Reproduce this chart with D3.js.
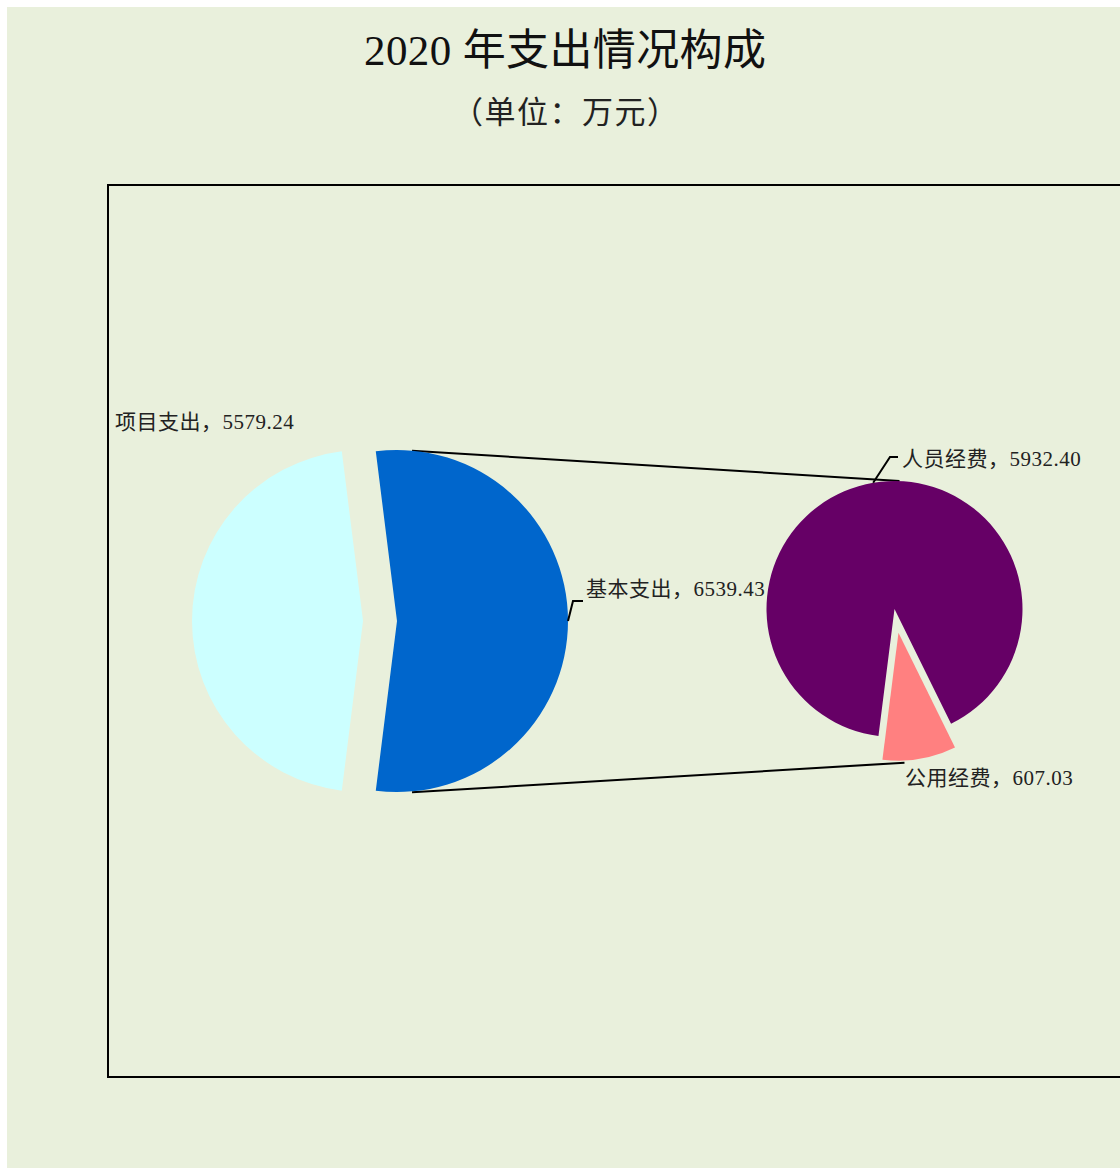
<!DOCTYPE html>
<html>
<head>
<meta charset="utf-8">
<script src="https://cdn.jsdelivr.net/npm/d3@7"></script>
<style>
  body { margin: 0; background: #fff; }
  svg { display: block; }
</style>
</head>
<body>
<div id="chart"></div>
<script>
// 2020 expenditure breakdown, pie-of-pie
const primaryNames = ["项目支出", "基本支出"];
const primaryValues = [5579.24, 6539.43];
const secondaryNames = ["人员经费", "公用经费"];
const secondaryValues = [5932.40, 607.03];
const primaryColors = ["#CCFFFF", "#0066CC"];
const secondaryColors = ["#660066", "#FF8080"];

const W = 1120, H = 1168;
const deg = Math.PI / 180;

// layout
const P = { cx: 380, cy: 621, r: 171, explode: 17 };
const S = { cx: 894.5, cy: 609, r: 128, explode: 24, start: 187.2 * deg };

const labelFont = "'Liberation Serif', 'Noto Sans CJK SC', serif";

const svg = d3.select("#chart").append("svg")
    .attr("width", W)
    .attr("height", H);

svg.append("rect")
    .attr("x", 7).attr("y", 7)
    .attr("width", W - 7).attr("height", H - 7)
    .attr("fill", "#E9F0DC");

// titles (fit to the reference widths)
svg.append("text")
    .attr("x", 565).attr("y", 65)
    .attr("text-anchor", "middle")
    .attr("font-family", "'Liberation Serif', 'Noto Sans CJK SC', sans-serif")
    .attr("font-size", "43px")
    .attr("fill", "#111")
    .attr("textLength", 402)
    .attr("lengthAdjust", "spacing")
    .text("2020 年支出情况构成");

svg.append("text")
    .attr("x", 565).attr("y", 123)
    .attr("text-anchor", "middle")
    .attr("font-family", labelFont)
    .attr("font-size", "31px")
    .attr("fill", "#222")
    .attr("textLength", 226)
    .attr("lengthAdjust", "spacing")
    .text("（单位：万元）");

// plot area frame
svg.append("rect")
    .attr("x", 108).attr("y", 185)
    .attr("width", W - 108 + 5).attr("height", 892)
    .attr("fill", "none")
    .attr("stroke", "#000")
    .attr("stroke-width", 2);

// --- primary pie ---
const pTotal = d3.sum(primaryValues);
// the split slice (基本支出) is centred on the right side
const pStart = Math.PI / 2 + (primaryValues[1] / pTotal) * Math.PI;
const primaryArcs = d3.pie().sort(null)
    .startAngle(pStart).endAngle(pStart + 2 * Math.PI)(primaryValues);

const arcP = d3.arc().innerRadius(0).outerRadius(P.r);
const offset = (a, d) => {
    const m = (a.startAngle + a.endAngle) / 2;
    return [Math.sin(m) * d, -Math.cos(m) * d];
};

// --- secondary pie ---
const secondaryArcs = d3.pie().sort(null)
    .startAngle(S.start).endAngle(S.start + 2 * Math.PI)(secondaryValues);
const arcS = d3.arc().innerRadius(0).outerRadius(S.r);

const blueOff = offset(primaryArcs[1], P.explode);
const blueC = [P.cx + blueOff[0], P.cy + blueOff[1]];
const pinkOff = offset(secondaryArcs[1], S.explode);
const pinkC = [S.cx + pinkOff[0], S.cy + pinkOff[1]];

// connector lines start just right of the top/bottom of the split slice
const dx = 15, dy = Math.sqrt(P.r * P.r - dx * dx);
const connectors = [
    [[blueC[0] + dx, blueC[1] - dy], [S.cx + 5, S.cy - S.r]],
    [[blueC[0] + dx, blueC[1] + dy + 1], [pinkC[0] + 6, pinkC[1] + S.r + 2]]
];
svg.selectAll("line.connector")
    .data(connectors)
    .enter().append("line")
    .attr("class", "connector")
    .attr("x1", d => d[0][0]).attr("y1", d => d[0][1])
    .attr("x2", d => d[1][0]).attr("y2", d => d[1][1])
    .attr("stroke", "#000")
    .attr("stroke-width", 2);

// data labels (drawn under the pies, as in the original)
const labels = [
    { text: `${primaryNames[0]}，${primaryValues[0].toFixed(2)}`, x: 115, y: 429 },
    { text: `${primaryNames[1]}，${primaryValues[1].toFixed(2)}`, x: 586, y: 596 },
    { text: `${secondaryNames[0]}，${secondaryValues[0].toFixed(2)}`, x: 902, y: 466 },
    { text: `${secondaryNames[1]}，${secondaryValues[1].toFixed(2)}`, x: 905, y: 785 }
];
svg.selectAll("text.label")
    .data(labels)
    .enter().append("text")
    .attr("class", "label")
    .attr("x", d => d.x).attr("y", d => d.y)
    .attr("font-family", labelFont)
    .attr("font-size", "21px")
    .attr("letter-spacing", "0.5px")
    .attr("fill", "#222")
    .text(d => d.text);

svg.append("g").selectAll("path")
    .data(primaryArcs)
    .enter().append("path")
    .attr("transform", d => {
        const o = offset(d, P.explode);
        return `translate(${P.cx + o[0]},${P.cy + o[1]})`;
    })
    .attr("d", arcP)
    .attr("fill", (d, i) => primaryColors[i]);

svg.append("g").selectAll("path")
    .data(secondaryArcs)
    .enter().append("path")
    .attr("transform", (d, i) => {
        const o = i === 1 ? offset(d, S.explode) : [0, 0];
        return `translate(${S.cx + o[0]},${S.cy + o[1]})`;
    })
    .attr("d", arcS)
    .attr("fill", (d, i) => secondaryColors[i]);

// leader lines
const leaders = [
    [[blueC[0] + P.r, blueC[1]], [573, 601], [583, 601]],
    [[S.cx + S.r * Math.sin(-9.6 * deg), S.cy - S.r * Math.cos(-9.6 * deg)], [890, 457], [898, 457]]
];
svg.selectAll("path.leader")
    .data(leaders)
    .enter().append("path")
    .attr("class", "leader")
    .attr("d", d3.line())
    .attr("fill", "none")
    .attr("stroke", "#000")
    .attr("stroke-width", 2);
</script>
</body>
</html>
